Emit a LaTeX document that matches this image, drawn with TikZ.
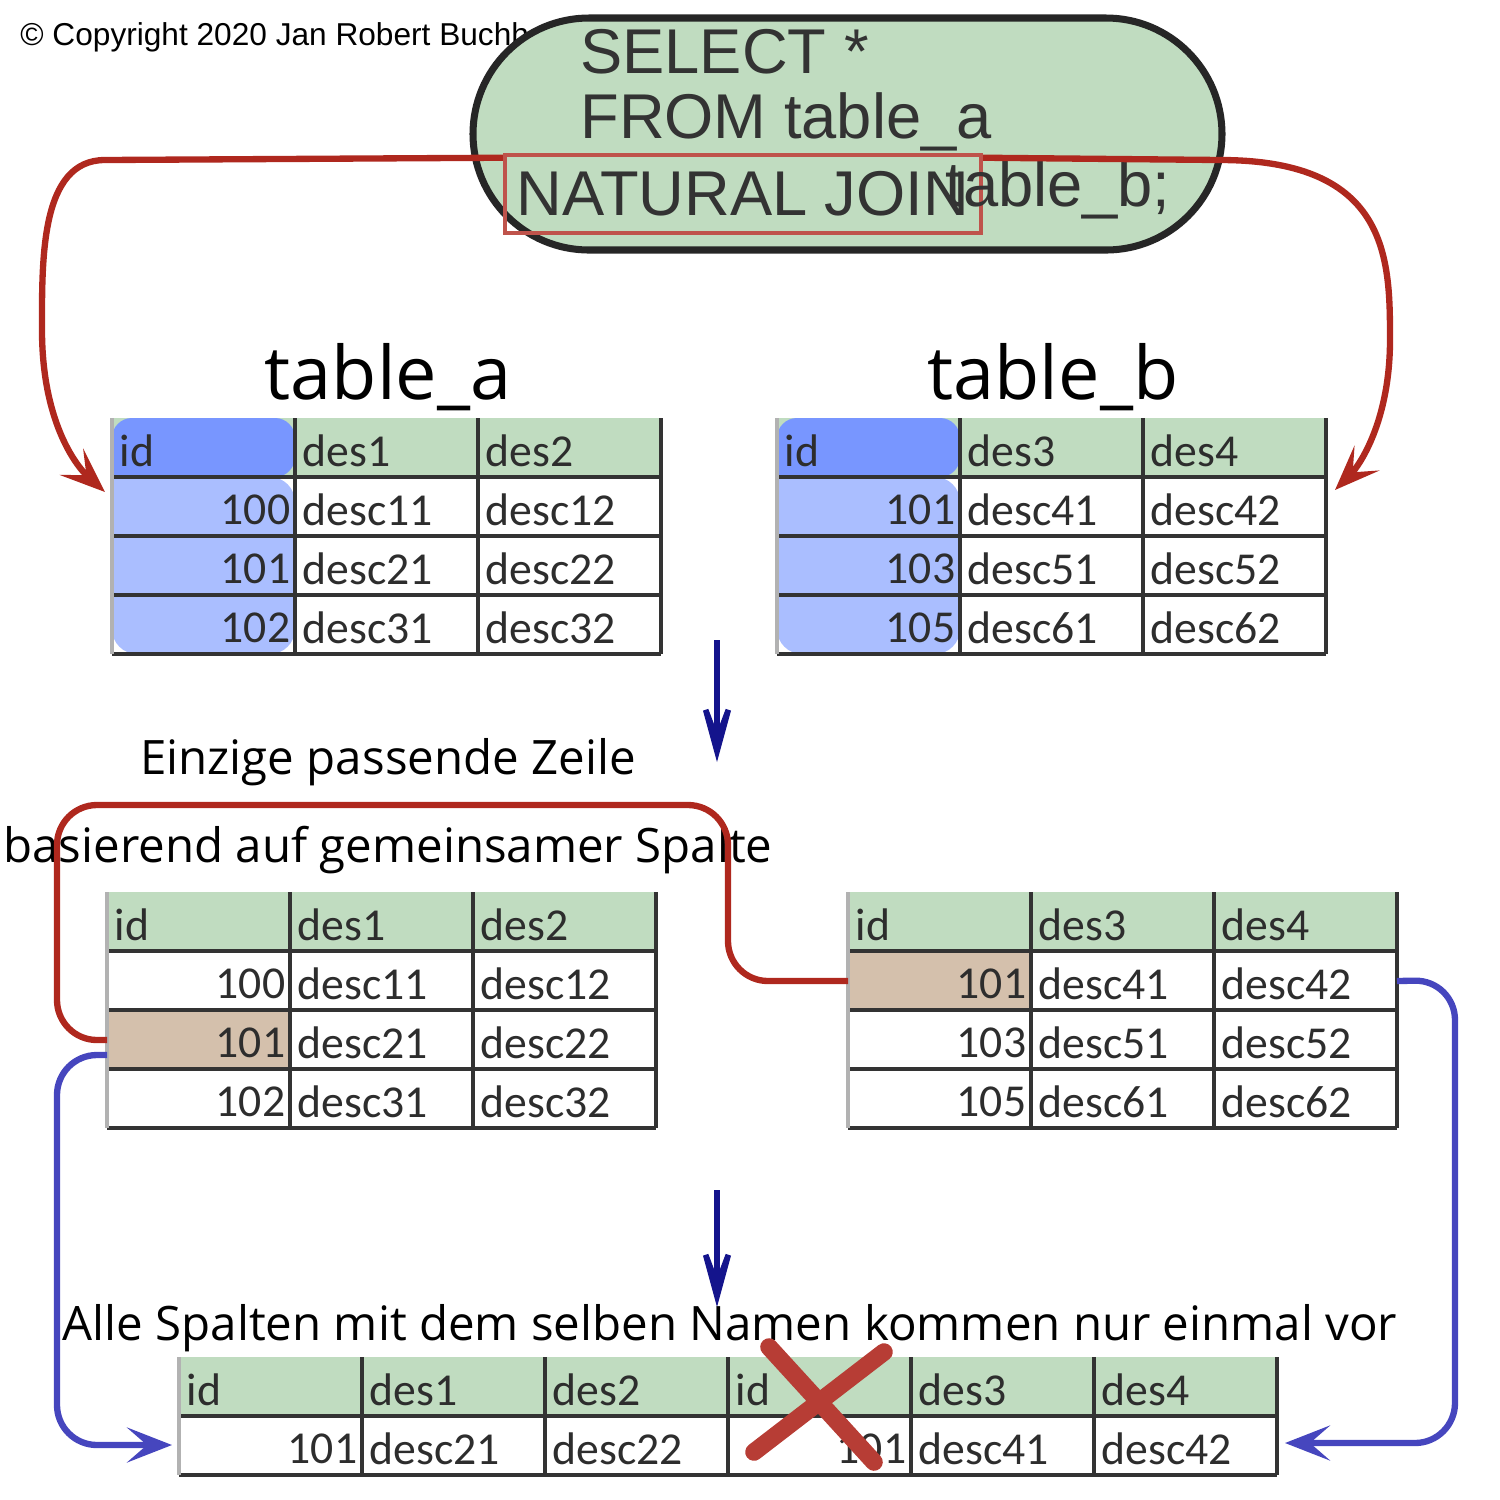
\documentclass[tikz,border=0pt]{standalone}
\usepackage{fontspec}
\setmainfont{Open Sans}
\newfontfamily\calibri{Carlito}
\newfontfamily\arialfont{Liberation Sans}
\usetikzlibrary{arrows.meta}
\definecolor{hdgreen}{RGB}{192,220,192}
\definecolor{iddark}{RGB}{120,150,255}
\definecolor{idlight}{RGB}{170,190,255}
\definecolor{hitbrown}{RGB}{212,192,172}
\definecolor{joinred}{RGB}{175,40,30}
\definecolor{connblue}{RGB}{70,70,190}
\definecolor{navy}{RGB}{20,20,140}
\definecolor{celltext}{RGB}{45,45,45}
\tikzset{
  cell/.style = {inner sep=0pt, anchor=west, text=celltext, font=\calibri\fontsize{13}{15}\selectfont},
  num/.style = {cell, anchor=east},
  grid/.style = {line width=0.9pt, draw=black!80},
  redconn/.style = {draw=joinred, line width=1.8pt, rounded corners=0.4cm},
  blueconn/.style = {draw=connblue, line width=1.8pt, rounded corners=0.4cm, -{Stealth[length=0.45cm,width=0.35cm,inset=0.2cm]}},
  down/.style = {draw=navy, line width=1.6pt, -{Stealth[length=1.1cm,width=0.6cm,inset=0.8cm]}},
  label/.style = {font=\fontsize{13.5}{16}\selectfont},
}
% #1 name, #2 origin, #3 header, #4 rows, #5 extra fill
\newcommand\sqltab[5]{%
  \begin{scope}[shift={#2}]
    \fill[hdgreen] (0,0) rectangle (5.49,-0.59);
    #5
    \foreach \h [count=\k from 0] in {#3}
      \node[cell] at (\k*1.83+0.07,-0.33) {\h};
    \foreach \n/\a/\b [count=\r] in {#4}{
      \node[num] at (1.79,-0.33-\r*0.59) {\n};
      \node[cell] at (1.90,-0.33-\r*0.59) {\a};
      \node[cell] at (3.73,-0.33-\r*0.59) {\b};
      \coordinate (#1-w\r) at (0,-0.3-\r*0.59);
      \coordinate (#1-e\r) at (5.49,-0.3-\r*0.59);
      \draw[grid] (0,-\r*0.59) -- (5.49,-\r*0.59);
    }
    \draw[grid] (0,-2.36) -- (5.49,-2.36);
    \foreach \x in {1.83,3.66,5.49} \draw[grid] (\x,0) -- (\x,-2.36);
    \draw[grid, draw=black!30] (0,0) -- (0,-2.36);
  \end{scope}}

\begin{document}
\begin{tikzpicture}
\useasboundingbox (0,0) rectangle (15,-15);

\node[anchor=west, font=\arialfont\fontsize{9}{11}\selectfont] (copy) at (0.08,-0.37) {\textcopyright\ Copyright 2020 Jan Robert Buchholz};

% query
\node[draw=black!85, fill=hdgreen, line width=2pt, minimum width=7.49cm, minimum height=2.32cm, rounded corners=1.16cm] (query) at (8.475,-1.34) {};
\node[anchor=west, font=\arialfont\fontsize{18}{20}\selectfont, text=black!80] (sel) at (5.68,-0.52) {SELECT *};
\node[anchor=west, font=\arialfont\fontsize{18}{20}\selectfont, text=black!80] (from) at (5.68,-1.22) {FROM table\_a};
\node[draw=joinred!80, line width=1.3pt, minimum width=3.8cm, minimum height=0.78cm, font=\arialfont\fontsize{18}{20}\selectfont, text=black!80] (nj) at (7.43,-1.94) {NATURAL JOIN};
\node[anchor=west, font=\arialfont\fontsize{18}{20}\selectfont, text=black!80] (tb) at (9.33,-1.9) {table\_b;};

\node[font=\fontsize{21}{24}\selectfont] (ta-title) at (3.88,-3.77) {table\_a};
\node[font=\fontsize{21}{24}\selectfont] (tb-title) at (10.53,-3.77) {table\_b};

\sqltab{A}{(1.12,-4.18)}{id,des1,des2}{100/desc11/desc12,101/desc21/desc22,102/desc31/desc32}
  {\fill[idlight, rounded corners=0.25cm] (0,-0.3) -- (0,-2.36) -- (1.83,-2.36) -- (1.83,-0.59) -- (0,-0.59);
   \fill[iddark, rounded corners=0.2cm] (0,-0.59) -- (0,0) -- (1.83,0) -- (1.83,-0.59) [sharp corners] -- cycle;}
\sqltab{B}{(7.77,-4.18)}{id,des3,des4}{101/desc41/desc42,103/desc51/desc52,105/desc61/desc62}
  {\fill[idlight, rounded corners=0.25cm] (0,-0.3) -- (0,-2.36) -- (1.83,-2.36) -- (1.83,-0.59) -- (0,-0.59);
   \fill[iddark, rounded corners=0.2cm] (0,-0.59) -- (0,0) -- (1.83,0) -- (1.83,-0.59) [sharp corners] -- cycle;}

\coordinate (A-in) at (1.05,-4.92);
\coordinate (B-in) at (13.35,-4.9);
\draw[redconn, rounded corners=0pt, -{Stealth[length=0.45cm,width=0.35cm,inset=0.2cm]}]
  ([yshift=-0.05cm]nj.north west) -- (1.05,-1.6) .. controls (0.4,-1.6) and (0.42,-2.6) .. (0.42,-3.3)
  .. controls (0.42,-4.2) and (0.75,-4.65) .. (A-in);
\draw[redconn, rounded corners=0pt, -{Stealth[length=0.45cm,width=0.35cm,inset=0.2cm]}]
  ([yshift=-0.05cm]nj.north east) -- (12.2,-1.6) .. controls (13.9,-1.6) and (13.9,-2.6) .. (13.9,-3.4)
  .. controls (13.9,-4.2) and (13.6,-4.65) .. (B-in);

\coordinate (d1s) at (7.17,-6.4);
\coordinate (d1e) at (7.17,-7.62);
\draw[down] (d1s) -- (d1e);

\node[label] (lab1) at (3.88,-7.62) {Einzige passende Zeile};
\node[label] (lab2) at (3.88,-8.5) {basierend auf gemeinsamer Spalte};

\sqltab{C}{(1.07,-8.92)}{id,des1,des2}{100/desc11/desc12,101/desc21/desc22,102/desc31/desc32}
  {\fill[hitbrown] (0,-1.18) rectangle (1.83,-1.77);}
\sqltab{D}{(8.48,-8.92)}{id,des3,des4}{101/desc41/desc42,103/desc51/desc52,105/desc61/desc62}
  {\fill[hitbrown] (0,-0.59) rectangle (1.83,-1.18);}

\draw[redconn] (C-w2) -- (0.57,-10.4) -- (0.57,-8.05) -- (7.28,-8.05) -- (7.28,-9.81) -- (D-w1);

\coordinate (d2s) at (7.17,-11.9);
\coordinate (d2e) at (7.17,-13.07);
\draw[down] (d2s) -- (d2e);

\node[label] (lab3) at (7.3,-13.28) {Alle Spalten mit dem selben Namen kommen nur einmal vor};

% result table
\begin{scope}[shift={(1.79,-13.57)}]
  \fill[hdgreen] (0,0) rectangle (10.98,-0.59);
  \foreach \h [count=\k from 0] in {id,des1,des2,id,des3,des4}
    \node[cell] at (\k*1.83+0.07,-0.33) {\h};
  \node[num] (E-id1) at (1.79,-0.92) {101};
  \node[cell] (E-a) at (1.90,-0.92) {desc21};
  \node[cell] (E-b) at (3.73,-0.92) {desc22};
  \node[num] (E-id2) at (7.28,-0.92) {101};
  \node[cell] (E-c) at (7.39,-0.92) {desc41};
  \node[cell] (E-d) at (9.22,-0.92) {desc42};
  \draw[grid] (0,-0.59) -- (10.98,-0.59);
  \draw[grid] (0,-1.18) -- (10.98,-1.18);
  \foreach \x in {1.83,3.66,5.49,7.32,9.15,10.98} \draw[grid] (\x,0) -- (\x,-1.18);
  \draw[grid, draw=black!30] (0,0) -- (0,-1.18);
  \coordinate (E-w1) at (-0.07,-0.88);
  \coordinate (E-e1) at (11.06,-0.86);
  % crossed out
  \draw[joinred!90, line width=5pt, line cap=round] (5.75,-0.95) -- (7.05,0.05);
  \draw[joinred!90, line width=5pt, line cap=round] (5.9,0.1) -- (6.95,-1.05);
\end{scope}

\draw[blueconn] ([yshift=-0.15cm]C-w2) -- (0.57,-10.55) -- (0.57,-14.45) -- (E-w1);
\draw[blueconn] (D-e1) -- (14.55,-9.8) -- (14.55,-14.43) -- (E-e1);
\end{tikzpicture}
\end{document}
